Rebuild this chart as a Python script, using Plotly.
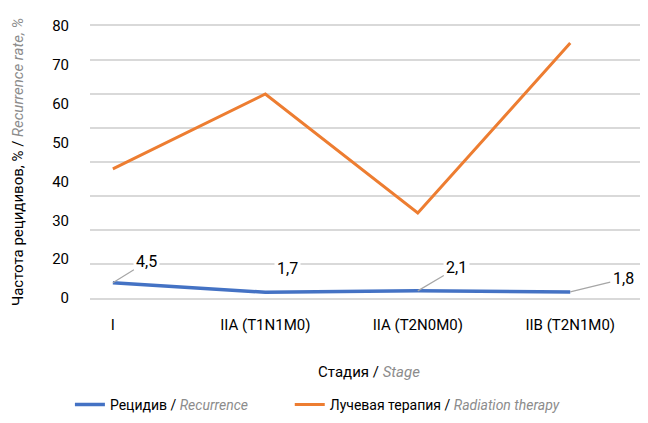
import plotly.graph_objects as go

stages = ["I", "IIA (T1N1M0)", "IIA (T2N0M0)", "IIB (T2N1M0)"]
recurrence = [4.5, 1.7, 2.1, 1.8]
radiation = [38, 60, 25, 75]
ylabel_text = ["0", "20", "30", "40", "50", "60", "70", "80"]

FONT = "Roboto, sans-serif"
GRAY = "#8c8c8c"
GRID = "#d9d9d9"


def en(s):
    return "<i><span style='color:" + GRAY + "'>" + s + "</span></i>"


fig = go.Figure()
fig.add_trace(go.Scatter(
    x=stages, y=recurrence, mode="lines",
    name="Рецидив / " + en("Recurrence"),
    line=dict(color="#4472C4", width=3.5), legend="legend"))
fig.add_trace(go.Scatter(
    x=stages, y=radiation, mode="lines",
    name="Лучевая терапия / " + en("Radiation therapy"),
    line=dict(color="#ED7D31", width=3), legend="legend2"))

# data labels for recurrence, with leader lines like the original
offsets = [(34, -21), (22, -24), (39, -23), (53, -13)]
for i, (st, v) in enumerate(zip(stages, recurrence)):
    ax, ay = offsets[i]
    lbl = str(v).replace(".", ",")
    if i == 1:
        fig.add_annotation(x=st, y=v, text=lbl, showarrow=False,
                           xshift=ax, yshift=-ay, bgcolor="white", borderpad=2,
                           font=dict(size=16, color="black", family=FONT))
    else:
        fig.add_annotation(x=st, y=v, text=lbl, showarrow=True, arrowhead=0,
                           arrowwidth=1.2, arrowcolor="#a6a6a6", ax=ax, ay=ay,
                           bgcolor="white", borderpad=2,
                           font=dict(size=16, color="black", family=FONT))

# tick labels in the original are spread evenly along the axis
label_pos = [k * 80 / (len(ylabel_text) - 1) for k in range(len(ylabel_text))]

leg = dict(orientation="h", y=-0.393, xanchor="left", yanchor="middle",
           font=dict(size=14), itemwidth=30, bgcolor="rgba(0,0,0,0)")

# the page body adds an 8px margin, so the figure is 8px smaller
fig.update_layout(
    width=640, height=415,
    margin=dict(l=82, r=0, t=18, b=125, autoexpand=False),
    paper_bgcolor="white", plot_bgcolor="white",
    font=dict(family=FONT, size=15, color="black"),
    showlegend=True,
    legend=dict(leg, x=-0.036),
    legend2=dict(leg, x=0.358),
    xaxis=dict(range=[-0.15, 3.51], showgrid=False, zeroline=False,
               showline=True, mirror=True, linecolor=GRID, linewidth=1.5,
               ticks="", ticklabelstandoff=12,
               title=dict(text="Стадия / " + en("Stage"),
                          standoff=34, font=dict(size=15))),
    yaxis=dict(range=[0, 80], tickmode="array", tickvals=label_pos, ticktext=ylabel_text,
               showgrid=False, zeroline=False, showline=False, ticks="", ticklabelstandoff=20,
               minor=dict(tickmode="linear", tick0=0, dtick=10, showgrid=True,
                          gridcolor=GRID, gridwidth=1.5, ticks=""),
               title=dict(text="Частота рецидивов, % / " + en("Recurrence rate, %"),
                          standoff=24, font=dict(size=15))),
)

fig.write_html("out.html")
